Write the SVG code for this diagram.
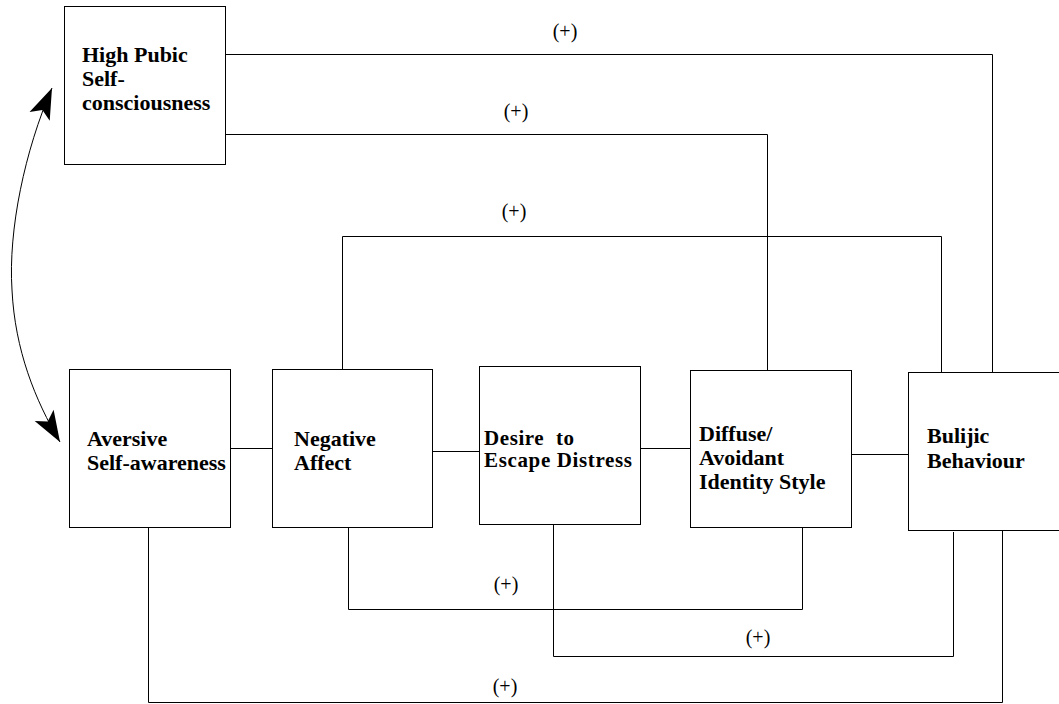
<svg xmlns="http://www.w3.org/2000/svg" width="1059" height="704" viewBox="0 0 1059 704">
<style>
.box{fill:#fff;stroke:#000;stroke-width:1}
.ln{fill:none;stroke:#000;stroke-width:1}
.t{font-family:"Liberation Serif","Times New Roman",serif;font-weight:bold;font-size:22px;fill:#000}
.t2{font-family:"Liberation Serif","Times New Roman",serif;font-weight:bold;font-size:21px;fill:#000}
.lbl{font-family:"Liberation Serif","Times New Roman",serif;font-size:20px;fill:#000;text-anchor:middle}
</style>
<defs>
<marker id="ah" viewBox="-32 -12 34 24" refX="0" refY="0" markerWidth="34" markerHeight="24" markerUnits="userSpaceOnUse" orient="auto-start-reverse">
<path d="M0,0 L-31,-11 L-24,0 L-31,11 Z" fill="#000"/>
</marker>
</defs>
<rect width="1059" height="704" fill="#fff"/>
<g id="connectors">
<path class="ln" d="M225,54.5 H992.5 V372"/>
<path class="ln" d="M223,134.5 H767.5 V370"/>
<path class="ln" d="M342.5,369 V236.5 H941.5 V372"/>
<path class="ln" d="M230,448.5 H272"/>
<path class="ln" d="M432,451.5 H479"/>
<path class="ln" d="M640,448.5 H690"/>
<path class="ln" d="M851,454.5 H908"/>
<path class="ln" d="M348.5,527 V609.5 H802.5 V527"/>
<path class="ln" d="M553.5,524 V656.5 H953.5 V532"/>
<path class="ln" d="M148.5,527 V702.5 H1002.5 V530"/>
<path class="ln" d="M52,88 C25,150 8,230 12,290 C15,350 35,400 60,442" marker-start="url(#ah)" marker-end="url(#ah)"/>
<text class="lbl" x="565" y="38">(+)</text>
<text class="lbl" x="516" y="118">(+)</text>
<text class="lbl" x="514" y="218">(+)</text>
<text class="lbl" x="506" y="591">(+)</text>
<text class="lbl" x="758" y="644">(+)</text>
<text class="lbl" x="505" y="693">(+)</text>
</g>
<g id="high-pubic">
<rect class="box" x="64.5" y="6.5" width="161" height="158"/>
<text class="t" x="82" y="62">High Pubic</text>
<text class="t" x="82" y="86">Self-</text>
<text class="t" x="82" y="110">consciousness</text>
</g>
<g id="aversive">
<rect class="box" x="69.5" y="369.5" width="161" height="158"/>
<text class="t" x="87" y="446">Aversive</text>
<text class="t" x="87" y="470">Self-awareness</text>
</g>
<g id="negative">
<rect class="box" x="272.5" y="369.5" width="160" height="158"/>
<text class="t" x="294" y="446">Negative</text>
<text class="t" x="294" y="470">Affect</text>
</g>
<g id="desire">
<rect class="box" x="479.5" y="366.5" width="161" height="158"/>
<text class="t2" x="484" y="445" xml:space="preserve" textLength="90">Desire  to</text>
<text class="t2" x="484" y="467" textLength="148">Escape Distress</text>
</g>
<g id="diffuse">
<rect class="box" x="690.5" y="370.5" width="161" height="157"/>
<text class="t" x="699" y="441">Diffuse/</text>
<text class="t" x="699" y="465">Avoidant</text>
<text class="t" x="699" y="489">Identity Style</text>
</g>
<g id="bulijic">
<rect class="box" x="908.5" y="372.5" width="160" height="158"/>
<text class="t" x="927" y="443">Bulijic</text>
<text class="t" x="927" y="468">Behaviour</text>
</g>
</svg>
